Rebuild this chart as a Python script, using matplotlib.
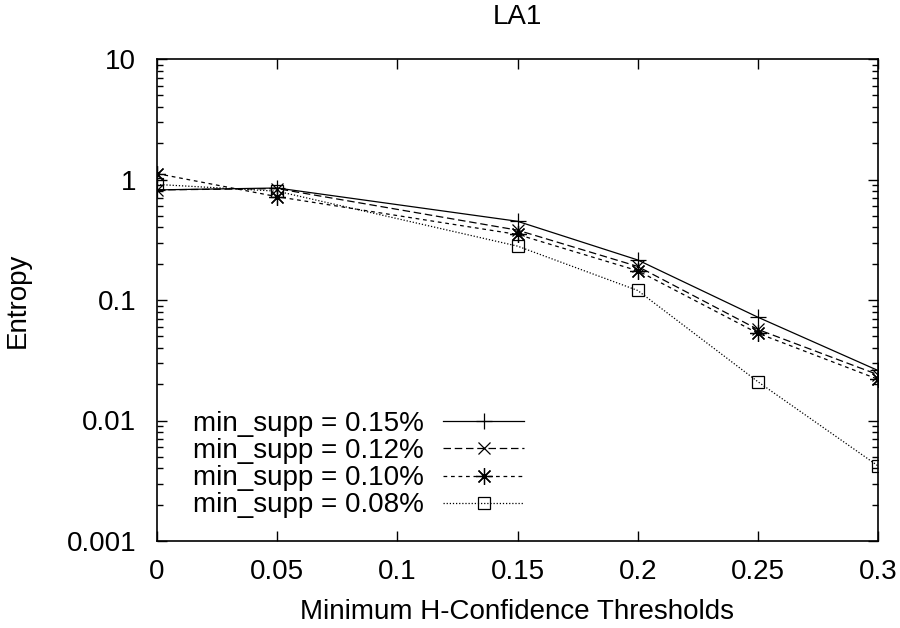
import matplotlib
matplotlib.use("Agg")
import matplotlib.pyplot as plt
from matplotlib.ticker import FixedLocator, LogLocator, NullFormatter

plt.rcParams['font.family'] = ['Liberation Sans', 'DejaVu Sans']

thresholds = [0, 0.05, 0.15, 0.2, 0.25, 0.3]
entropy_015 = [0.82, 0.85, 0.45, 0.215, 0.072, 0.026]
entropy_012 = [0.82, 0.84, 0.38, 0.19, 0.057, 0.024]
entropy_010 = [1.12, 0.72, 0.35, 0.175, 0.053, 0.022]
entropy_008 = [0.91, 0.80, 0.28, 0.12, 0.021, 0.0042]
labels = ['min_supp = 0.15%', 'min_supp = 0.12%', 'min_supp = 0.10%', 'min_supp = 0.08%']
xtick_labels = ['0', '0.05', '0.1', '0.15', '0.2', '0.25', '0.3']
ytick_labels = ['0.001', '0.01', '0.1', '1', '10']

FS = 20

fig = plt.figure(figsize=(9, 6.28), dpi=100)
ax = fig.add_axes([157/900, 1-541/628, (878-157)/900, (541-59)/628])

series = [entropy_015, entropy_012, entropy_010, entropy_008]
styles = [
    dict(linestyle='-', marker='+', markersize=12),
    dict(linestyle=(0, (6, 3)), marker='x', markersize=9),
    dict(linestyle=(0, (3, 3)), marker=(8, 2, 0), markersize=12),
    dict(linestyle=(0, (1, 1.5)), marker='s', markersize=9, fillstyle='none'),
]
for ys, lab, st in zip(series, labels, styles):
    ax.plot(thresholds, ys, color='black', linewidth=0.9, markeredgewidth=0.9,
            label=lab, **st)

ax.set_yscale('log')
ax.set_xlim(0, 0.3)
ax.set_ylim(0.001, 10)
ax.xaxis.set_major_locator(FixedLocator([0, 0.05, 0.1, 0.15, 0.2, 0.25, 0.3]))
ax.set_xticklabels(xtick_labels)
ax.yaxis.set_major_locator(FixedLocator([0.001, 0.01, 0.1, 1, 10]))
ax.set_yticklabels(ytick_labels)
ax.yaxis.set_minor_locator(LogLocator(base=10, subs=range(2, 10)))
ax.yaxis.set_minor_formatter(NullFormatter())
ax.tick_params(which='both', direction='in', top=True, right=True, labelsize=FS,
               width=1, color='black')
ax.tick_params(which='major', length=7)
ax.tick_params(which='minor', length=4)
ax.tick_params(axis='x', which='major', pad=13)
ax.tick_params(axis='y', which='major', pad=15)
for sp in ax.spines.values():
    sp.set_linewidth(1.2)

ax.set_xlabel('Minimum H-Confidence Thresholds', fontsize=FS, labelpad=10)
ax.set_ylabel('Entropy', fontsize=FS, labelpad=26)
ax.set_title('LA1', fontsize=FS, pad=25)

leg = ax.legend(loc='upper left', bbox_to_anchor=((193-157)/721, (541-411)/482),
                markerfirst=False, frameon=False, fontsize=FS, handlelength=2.9,
                labelspacing=0.04, handletextpad=0.7, borderaxespad=0, borderpad=0)

fig.savefig('out.png', dpi=100)
